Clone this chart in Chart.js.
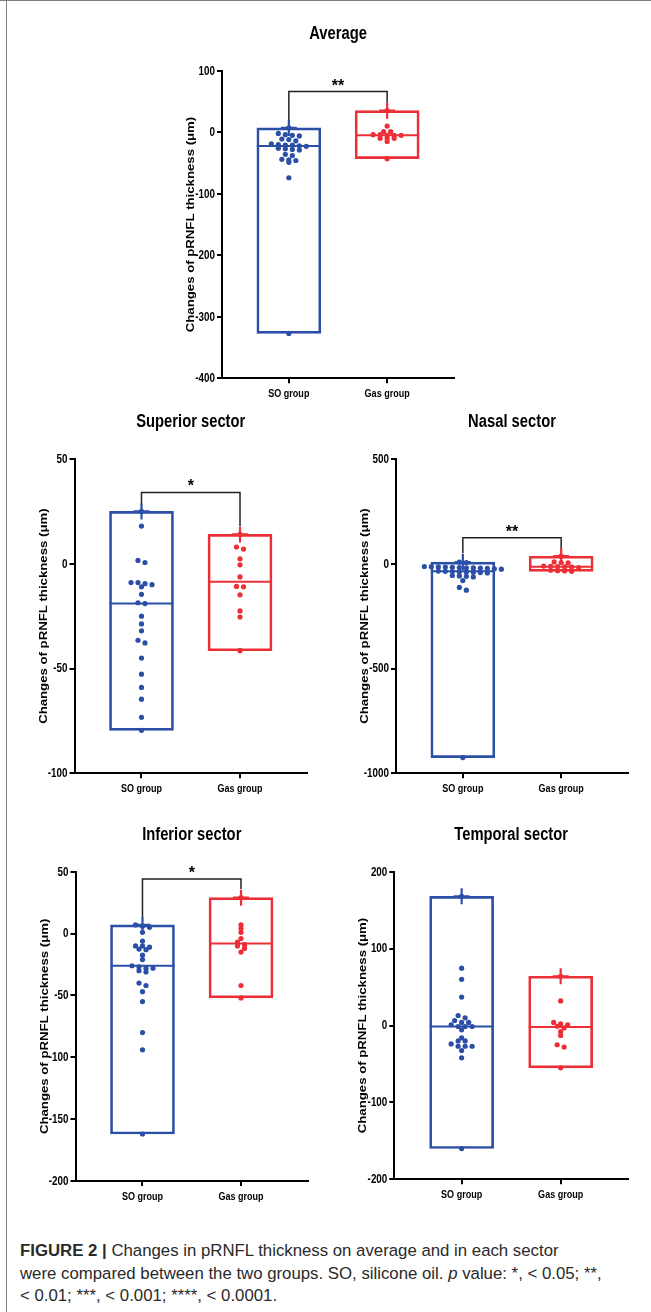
<!DOCTYPE html>
<html><head><meta charset="utf-8">
<script src="https://cdn.jsdelivr.net/npm/chart.js@4"></script>
<style>
html,body{margin:0;padding:0;background:#fff;}
body{width:651px;height:1312px;overflow:hidden;position:relative;}
canvas{position:absolute;}
#topline{position:absolute;left:0;top:0;width:651px;height:0;border-top:1.5px solid #808080;}
#leftline{position:absolute;left:6px;top:0;width:0;height:1312px;border-left:1.5px solid #808080;}
#cap{position:absolute;left:20px;top:1240px;font-family:'Liberation Sans',Arial,sans-serif;font-size:16.8px;line-height:22.5px;color:#2a2a2a;white-space:nowrap;}
</style></head><body>
<div id="topline"></div><div id="leftline"></div>
<div id="cap"><b>FIGURE 2 |</b> Changes in pRNFL thickness on average and in each sector<br>were compared between the two groups. SO, silicone oil. <i>p</i> value: *, &lt; 0.05; **,<br>&lt; 0.01; ***, &lt; 0.001; ****, &lt; 0.0001.</div>
<script>
// ---------------- data ----------------
const categories = ['SO group', 'Gas group'];
const titles = ['Average', 'Superior sector', 'Nasal sector', 'Inferior sector', 'Temporal sector'];
const yTitle = 'Changes of pRNFL thickness (\u03bcm)';

const averageSO  = [7, -2, -4, -5, -6, -11, -12, -14, -19, -20, -21, -21, -22, -23, -26, -27, -28, -29, -36, -38, -44, -45, -46, -49, -74, -327];
const averageGas = [35, 10, 1, 1, -4, -4, -5, -5, -5, -10, -10, -10, -15, -43];
const superiorSO  = [25, 18, 1.6, 0.6, -9, -9, -9.5, -10, -11, -14.6, -18.6, -19, -25, -28.7, -32, -36.5, -37.8, -45, -52.7, -59, -64.6, -73.3, -79.5];
const superiorGas = [14, 8, 7, 2.4, -0.5, -6.3, -10.8, -11, -14.8, -22.5, -25.4, -41.5];
const nasalSO  = [8, 6, -13, -14, -15, -16, -17, -18, -19, -20, -21, -22, -24, -26, -35, -36, -37, -38, -39, -40, -42, -44, -56, -58, -60, -63, -80, -113, -126, -925];
const nasalGas = [36, 9, 6, 4, -11, -12, -14, -15, -16, -18, -31, -33, -34, -36];
const inferiorSO  = [7, 6, 5, 1, -6, -10, -10, -11, -12.5, -13, -17.5, -21, -26, -27, -28, -28, -30, -31, -40, -42, -47, -55, -80, -94, -162];
const inferiorGas = [29, 7, 4, 1, -4, -7, -9, -10, -12, -15, -42, -52];
const temporalSO  = [168, 74.5, 60, 37, 13, 10, 6.5, 4, 4, 1, -1.3, -1.3, -1.3, -5.6, -16, -20, -20, -24, -27, -27, -27, -32.5, -42, -160];
const temporalGas = [64, 32, 4, 2, 1, -1, -3, -8, -13, -25, -28, -55];

const averageTicks  = [-400, -300, -200, -100, 0, 100];
const superiorTicks = [-100, -50, 0, 50];
const nasalTicks    = [-1000, -500, 0, 500];
const inferiorTicks = [-200, -150, -100, -50, 0, 50];
const temporalTicks = [-200, -100, 0, 100, 200];

// significance brackets: [SO end, bracket level, Gas end], label, label value
const averageBracket  = [20, 66, 48];   const averageSig  = '**'; const averageSigAt  = 82;
const superiorBracket = [28, 34, 18];   const superiorSig = '*';  const superiorSigAt = 39;
const nasalBracket    = [50, 124, 70];  const nasalSig    = '**'; const nasalSigAt    = 171;
const inferiorBracket = [13, 44, 36];   const inferiorSig = '*';  const inferiorSigAt = 52;
const temporalBracket = null;           const temporalSig = '';   const temporalSigAt = 0;

// ---------------- style / layout ----------------
const BLUE = '#2b4fa7', RED = '#ec2f37';
const SANS = "'Liberation Sans',Arial,sans-serif";
const XMIN = 0.32, XMAX = 2.68;
const YW = 40, XH = 30;
// chart areas [left, top, right, bottom]
const areas = [
  [222, 70.7, 454, 378.3],
  [74.5, 459, 307, 773.3],
  [396, 459, 628, 773.3],
  [75.5, 871.7, 308, 1181],
  [394.3, 871.7, 628, 1179.3]
];

function median(a){const s=[...a].sort((p,q)=>p-q);const n=s.length;return n%2?s[(n-1)/2]:(s[n/2-1]+s[n/2])/2;}

function swarm(vals, cx, pxY, pxX){
  const sorted=[...vals].sort((a,b)=>b-a);
  const rows=[]; let cur=null;
  for(const v of sorted){
    if(cur && (cur[0]-v)*pxY < 3) cur.push(v); else {cur=[v]; rows.push(cur);}
  }
  const pts=[];
  for(const r of rows){const n=r.length; r.forEach((v,i)=>pts.push({x:cx+(i-(n-1)/2)*7/pxX, y:v}));}
  return pts;
}

function narrow(ctx, text, x, y, size, align, base, sx){
  ctx.save();
  ctx.translate(x, y); ctx.scale(sx || 0.82, 1);
  ctx.font = 'bold ' + size + 'px ' + SANS;
  ctx.textAlign = align; ctx.textBaseline = base;
  ctx.fillText(text, 0, 0);
  ctx.restore();
}

const txtPlugin = {
  id:'txt',
  afterDraw(chart, args, o){
    const {ctx, chartArea:a} = chart; const x = chart.scales.x, y = chart.scales.y;
    ctx.save();
    ctx.fillStyle = '#000';
    narrow(ctx, o.title, x.getPixelForValue(1.5), a.top - 37, 18, 'center', 'middle');
    y.ticks.forEach(t => narrow(ctx, String(t.value), a.left - 7, y.getPixelForValue(t.value) + 0.5, 12, 'right', 'middle'));
    x.ticks.forEach(t => narrow(ctx, categories[Math.round(t.value) - 1], x.getPixelForValue(t.value), a.bottom + 15.5, 11, 'center', 'middle'));
    if(o.sig){
      ctx.font = 'bold 16px ' + SANS; ctx.textAlign = 'center'; ctx.textBaseline = 'alphabetic';
      ctx.fillText(o.sig, x.getPixelForValue(1.5), y.getPixelForValue(o.sigAt) + 9);
    }
    ctx.translate(a.left - 31, (a.top + a.bottom)/2);
    ctx.rotate(-Math.PI/2);
    ctx.scale(1, 0.85);
    ctx.textAlign = 'center'; ctx.textBaseline = 'middle';
    ctx.font = 'bold 13.2px ' + SANS;
    ctx.fillText(yTitle, 0, 0);
    ctx.restore();
  }
};

function makePanel(i, so, gas, ticks, bracket, sig, sigAt){
  const [L,T,R,B] = areas[i];
  const cl = Math.floor(L) - 72, ct = Math.floor(T) - 50;
  const W = Math.ceil(R - cl + 12), H = Math.ceil(B - ct + XH + 5);
  const pad = {left: L - cl - YW, top: T - ct, right: W - (R - cl), bottom: H - (B - ct) - XH};
  const cv = document.createElement('canvas');
  cv.width = W; cv.height = H;
  cv.style.left = cl + 'px'; cv.style.top = ct + 'px';
  cv.style.width = W + 'px'; cv.style.height = H + 'px';
  document.body.appendChild(cv);
  const ymin = Math.min(...ticks), ymax = Math.max(...ticks);
  const pxY = (B - T)/(ymax - ymin), pxX = (R - L)/(XMAX - XMIN);
  const datasets = [
    {type:'scatter', data:[{x:1,y:Math.max(...so)},{x:2,y:Math.max(...gas)}], pointStyle:'cross', pointRadius:8, pointBorderWidth:2.2, pointBorderColor:[BLUE,RED], pointBackgroundColor:[BLUE,RED]},
    {type:'scatter', data:[{x:1,y:median(so)},{x:2,y:median(gas)}], pointStyle:'line', pointRadius:32, pointBorderWidth:2, pointBorderColor:[BLUE,RED]},
    {type:'scatter', data:swarm(so,1,pxY,pxX), pointRadius:2.6, pointBorderWidth:0, pointBackgroundColor:BLUE},
    {type:'scatter', data:swarm(gas,2,pxY,pxX), pointRadius:2.6, pointBorderWidth:0, pointBackgroundColor:RED},
  ];
  if(bracket){
    datasets.push({type:'line', data:[{x:1,y:bracket[0]},{x:1,y:bracket[1]},{x:2,y:bracket[1]},{x:2,y:bracket[2]}], borderColor:'#222', borderWidth:1.5, pointRadius:0, fill:false, tension:0});
  }
  datasets.push({type:'bar', data:[{x:1,y:[Math.min(...so),Math.max(...so)]},{x:2,y:[Math.min(...gas),Math.max(...gas)]}], backgroundColor:'rgba(0,0,0,0)', borderColor:[BLUE,RED], borderWidth:2, borderSkipped:false, barThickness:64});
  new Chart(cv, {
    type:'scatter',
    data:{datasets},
    options:{
      responsive:false, animation:false, events:[],
      layout:{autoPadding:false, padding:{left:pad.left, top:pad.top, right:pad.right, bottom:pad.bottom}},
      plugins:{legend:{display:false}, tooltip:{enabled:false}, txt:{title:titles[i], sig:sig, sigAt:sigAt}},
      scales:{
        x:{type:'linear', min:XMIN, max:XMAX, offset:false,
           afterBuildTicks:s=>{s.ticks=[{value:1},{value:2}];},
           afterFit:s=>{s.height=XH;},
           ticks:{display:false, callback:v=>categories[Math.round(v)-1]},
           grid:{display:true, offset:false, drawOnChartArea:false, drawTicks:true, tickLength:5, color:'#000', lineWidth:2},
           border:{display:true, color:'#000', width:2}},
        y:{type:'linear', min:ymin, max:ymax, offset:false,
           afterBuildTicks:s=>{s.ticks=ticks.map(v=>({value:v}));},
           afterFit:s=>{s.width=YW;},
           ticks:{display:false, callback:v=>String(v)},
           grid:{display:true, offset:false, drawOnChartArea:false, drawTicks:true, tickLength:5, color:'#000', lineWidth:2},
           border:{display:true, color:'#000', width:2}}
      }
    },
    plugins:[txtPlugin]
  });
}

makePanel(0, averageSO, averageGas, averageTicks, averageBracket, averageSig, averageSigAt);
makePanel(1, superiorSO, superiorGas, superiorTicks, superiorBracket, superiorSig, superiorSigAt);
makePanel(2, nasalSO, nasalGas, nasalTicks, nasalBracket, nasalSig, nasalSigAt);
makePanel(3, inferiorSO, inferiorGas, inferiorTicks, inferiorBracket, inferiorSig, inferiorSigAt);
makePanel(4, temporalSO, temporalGas, temporalTicks, temporalBracket, temporalSig, temporalSigAt);
</script>
</body></html>
